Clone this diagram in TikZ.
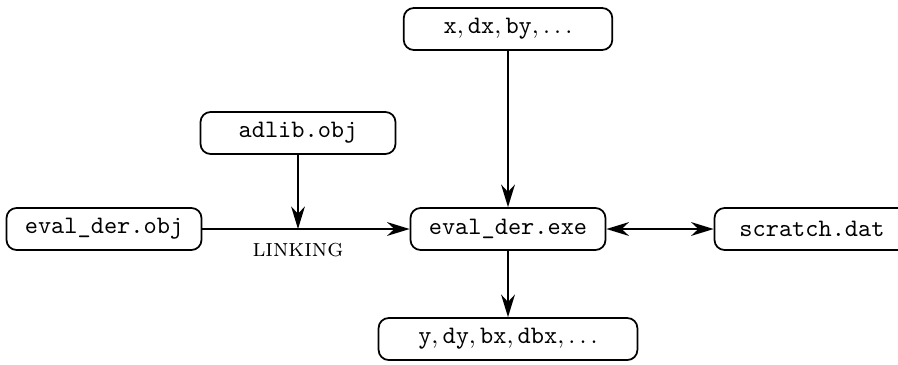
\documentclass[tikz,border=0pt]{standalone}
\usetikzlibrary{arrows.meta}

\tikzset{
  filebox/.style={draw, rounded corners=4pt, line width=0.7pt,
    minimum height=16.7pt, inner sep=0pt, font=\ttfamily},
  tip/.tip={Stealth[length=9pt, width=5.5pt]},
  flow/.style={-tip, line width=0.7pt}
}

\begin{document}
\begin{tikzpicture}[x=0.398pt, y=-0.398pt]

  % page frame
  \useasboundingbox (0,0) rectangle (898,364);

  % files
  \node[filebox, minimum width=83pt]  (inputs)  at (508, 29)  {$\mathtt{x}, \mathtt{dx}, \mathtt{by}, \ldots$};
  \node[filebox, minimum width=77.6pt] (adlib)  at (298, 133) {adlib.obj};
  \node[filebox, minimum width=77.6pt] (evalobj) at (104, 229) {eval\_der.obj};
  \node[filebox, minimum width=77.6pt] (evalexe) at (508, 229) {eval\_der.exe};
  \node[filebox, minimum width=77.6pt] (scratch) at (812, 229) {scratch.dat};
  \node[filebox, minimum width=103pt] (outputs) at (508, 339) {$\mathtt{y}, \mathtt{dy}, \mathtt{bx}, \mathtt{dbx}, \ldots$};

  % linking step
  \coordinate (join) at (adlib.south |- evalobj.east);
  \draw[flow] (evalobj) -- (evalexe);
  \draw[flow] (adlib) -- (join);
  \node[font=\scshape, below=2pt] (linklabel) at (join) {linking};

  % run
  \draw[flow] (inputs) -- (evalexe);
  \draw[flow] (evalexe) -- (outputs);
  \draw[flow, tip-tip] (evalexe) -- (scratch);

\end{tikzpicture}
\end{document}
